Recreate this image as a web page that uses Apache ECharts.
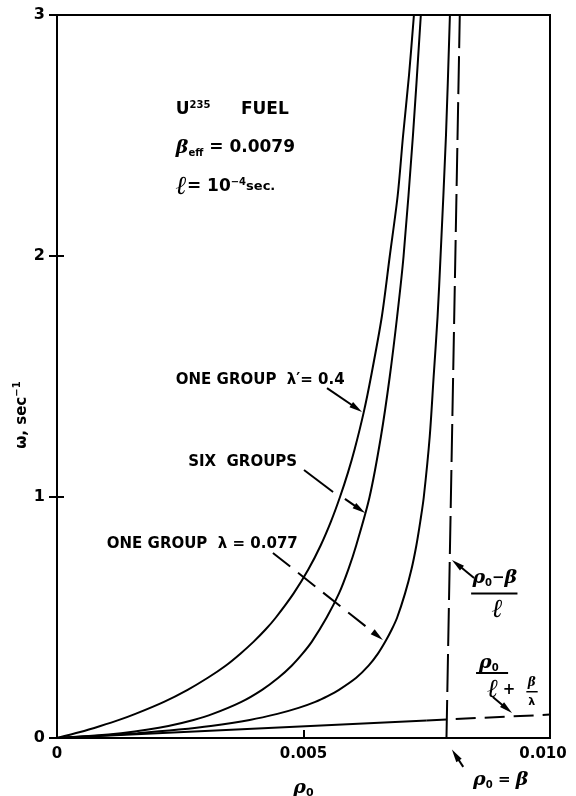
<!DOCTYPE html>
<html><head><meta charset="utf-8">
<script src="https://cdn.jsdelivr.net/npm/echarts@6/dist/echarts.min.js"></script>
<style>html,body{margin:0;padding:0;background:#fff}#c{width:576px;height:796px}</style>
</head><body><div id="c"></div>
<script>
// ---- data ----
const xTicks = [0, 0.005, 0.010];
const xTickLabels = ['0', '0.005', '0.010'];
const yTicks = [0, 1, 2, 3];
const yTickLabels = ['0', '1', '2', '3'];

// ONE GROUP lambda' = 0.4
const oneGroup04Rho   = [0, 0.00047, 0.00088, 0.00126, 0.00159, 0.00217, 0.00265, 0.00306, 0.00342, 0.00372, 0.00399, 0.00423, 0.00444, 0.00480, 0.00510, 0.00535, 0.00556, 0.00574, 0.00590, 0.00604, 0.00622, 0.00637, 0.00659, 0.00675, 0.00691, 0.00702, 0.00714, 0.00724];
const oneGroup04Omega = [0, 0.025,   0.05,    0.075,   0.10,    0.15,    0.20,    0.25,    0.30,    0.35,    0.40,    0.45,    0.50,    0.60,    0.70,    0.80,    0.90,    1.00,    1.10,    1.20,    1.35,    1.50,    1.75,    2.00,    2.25,    2.50,    2.75,    3.00];

// SIX GROUPS
const sixGroupRho   = [0, 0.00078, 0.00130, 0.00185, 0.00226, 0.00277, 0.00316, 0.00374, 0.00416, 0.00449, 0.00476, 0.00498, 0.00517, 0.00547, 0.00572, 0.00591, 0.00607, 0.00634, 0.00657, 0.00675, 0.00690, 0.00703, 0.00722, 0.00738];
const sixGroupOmega = [0, 0.01,    0.02,    0.035,   0.05,    0.075,   0.10,    0.15,    0.20,    0.25,    0.30,    0.35,    0.40,    0.50,    0.60,    0.70,    0.80,    1.00,    1.25,    1.50,    1.75,    2.00,    2.50,    3.00];

// ONE GROUP lambda = 0.077
const oneGroup077Rho   = [0, 0.00048, 0.00091, 0.00163, 0.00247, 0.00312, 0.00391, 0.00447, 0.00490, 0.00524, 0.00550, 0.00572, 0.00607, 0.00632, 0.00651, 0.00666, 0.00679, 0.00690, 0.00706, 0.00719, 0.00729, 0.00737, 0.00744, 0.00756, 0.00764, 0.00772, 0.00778, 0.00789, 0.00797];
const oneGroup077Omega = [0, 0.005,   0.01,    0.02,    0.035,   0.05,    0.075,   0.10,    0.125,   0.15,    0.175,   0.20,    0.25,    0.30,    0.35,    0.40,    0.45,    0.50,    0.60,    0.70,    0.80,    0.90,    1.00,    1.25,    1.50,    1.75,    2.00,    2.50,    3.00];

// rho0 / (l + beta/lambda): solid part, dashed continuation
const lowLineRho   = [0, 0.0075];
const lowLineOmega = [0, 0.073];
const lowDashRho   = [0.0075, 0.0100];
const lowDashOmega = [0.073, 0.097];

// (rho0 - beta) / l
const asymRho   = [0.0079, 0.00817];
const asymOmega = [0, 3];

const zip = (a, b) => a.map((v, i) => [v, b[i]]);
const pick = (ticks, labels) => v => {
  for (let i = 0; i < ticks.length; i++) if (Math.abs(v - ticks[i]) < 1e-9) return labels[i];
  return '';
};

const chart = echarts.init(document.getElementById('c'), null, {renderer: 'canvas'});
const black = '#000';
const curve = (name, d, extra) => Object.assign({
  name, type: 'line', data: d, showSymbol: false, smooth: 0.3,
  lineStyle: {color: black, width: 2}, animation: false, silent: true
}, extra || {});

const xLab = pick(xTicks, xTickLabels);
chart.setOption({
  animation: false,
  backgroundColor: '#fff',
  grid: {left: 57, right: 26, top: 15, bottom: 58, show: true, borderColor: black, borderWidth: 2,
    containLabel: false, outerBoundsMode: 'none'},
  xAxis: {
    type: 'value', min: 0, max: 0.01, interval: 0.005,
    axisLine: {lineStyle: {color: black, width: 2}},
    axisTick: {inside: true, length: 8, lineStyle: {color: black, width: 2}},
    axisLabel: {
      formatter: v => (Math.abs(v - 0.01) < 1e-9 ? '{e|' + xLab(v) + '}' : xLab(v)),
      color: black, fontFamily: 'DejaVu Sans', fontWeight: 'bold', fontSize: 15, margin: 9,
      rich: {e: {fontFamily: 'DejaVu Sans', fontWeight: 'bold', fontSize: 15, color: black, padding: [0, 14, 0, 0]}}
    },
    splitLine: {show: false},
    name: '{r|ρ}{s|0}', nameLocation: 'middle', nameGap: 40,
    nameTextStyle: {rich: {
      r: {fontFamily: 'DejaVu Serif', fontStyle: 'italic', fontWeight: 'bold', fontSize: 19, color: black},
      s: {fontFamily: 'DejaVu Sans', fontWeight: 'bold', fontSize: 11, color: black, padding: [10, 0, 0, 0]}
    }}
  },
  yAxis: [{
    type: 'value', min: 0, max: 3, interval: 1,
    axisLine: {show: true, lineStyle: {color: black, width: 2}},
    axisTick: {show: true, length: 8, lineStyle: {color: black, width: 2}},
    axisLabel: {formatter: pick(yTicks, yTickLabels), color: black, fontFamily: 'DejaVu Sans', fontWeight: 'bold', fontSize: 16, margin: 12},
    splitLine: {show: false}
  }, {
    type: 'value', min: 0, max: 3, interval: 1, position: 'left',
    axisLine: {show: false},
    axisTick: {show: true, inside: true, length: 7, lineStyle: {color: black, width: 2}},
    axisLabel: {show: false}, splitLine: {show: false}
  }],
  series: [
    curve('one group 0.4', zip(oneGroup04Rho, oneGroup04Omega)),
    curve('six groups', zip(sixGroupRho, sixGroupOmega)),
    curve('one group 0.077', zip(oneGroup077Rho, oneGroup077Omega)),
    curve('low line', zip(lowLineRho, lowLineOmega), {smooth: false}),
    curve('low dash', zip(lowDashRho, lowDashOmega), {smooth: false, lineStyle: {color: black, width: 2, type: [20, 9]}}),
    curve('asymptote', zip(asymRho, asymOmega), {smooth: false, lineStyle: {color: black, width: 2, type: [38, 8]}})
  ]
});

// ---- annotations (anchored in data units, converted by the chart) ----
const P = (x, y) => chart.convertToPixel({gridIndex: 0}, [x, y]);
const g = [];
function arrow(p0, p1, dash) {
  const a = P(p0[0], p0[1]), b = P(p1[0], p1[1]);
  const dx = b[0] - a[0], dy = b[1] - a[1], L = Math.hypot(dx, dy), ux = dx / L, uy = dy / L;
  const hl = 13, hw = 3.2;
  const base = [b[0] - ux * hl, b[1] - uy * hl];
  g.push({type: 'line', shape: {x1: a[0], y1: a[1], x2: base[0] + ux * 2, y2: base[1] + uy * 2},
    style: {stroke: black, lineWidth: 2, lineDash: dash || null}});
  g.push({type: 'polygon', shape: {points: [b, [base[0] - uy * hw, base[1] + ux * hw], [base[0] + uy * hw, base[1] - ux * hw]]},
    style: {fill: black}});
}
function seg(p0, p1) {
  const a = P(p0[0], p0[1]), b = P(p1[0], p1[1]);
  g.push({type: 'line', shape: {x1: a[0], y1: a[1], x2: b[0], y2: b[1]}, style: {stroke: black, lineWidth: 2}});
}
function text(pos, t, rich, align) {
  const p = P(pos[0], pos[1]);
  g.push({type: 'text', x: p[0], y: p[1], style: {text: t, rich: rich, align: align || 'left', verticalAlign: 'middle', fill: black}});
}
function hbar(x0, x1, y, w) {
  const a = P(x0, y), b = P(x1, y);
  g.push({type: 'line', shape: {x1: a[0], y1: a[1], x2: b[0], y2: b[1]}, style: {stroke: black, lineWidth: w || 2}});
}

const sans = (size) => ({fontFamily: 'DejaVu Sans', fontWeight: 'bold', fontSize: size, color: black});
const ital = (size) => ({fontFamily: 'DejaVu Serif', fontStyle: 'italic', fontWeight: 'bold', fontSize: size, color: black});
const richAll = {
  a: sans(17), b: sans(15), sup: Object.assign(sans(10), {padding: [0, 0, 10, 0]}),
  sub: Object.assign(sans(10), {padding: [10, 0, 0, 0]}),
  sm: sans(13), g: ital(19), gs: Object.assign(sans(10), {padding: [10, 0, 0, 0]}),
  l: {fontFamily: 'DejaVu Serif', fontStyle: 'italic', fontWeight: 'bold', fontSize: 26, color: black}
};

text([0.00241, 2.606], '{a|U}{sup|235}', richAll);
text([0.00373, 2.606], '{a|FUEL}', richAll);
text([0.00241, 2.448], '{g|β}{sub|eff}{a| = 0.0079}', richAll);
text([0.00241, 2.286], '{l|ℓ}{a|= 10}{sup|−4}{sm|sec.}', richAll);

text([0.00241, 1.486], "{b|ONE GROUP  λ′= 0.4}", richAll);
text([0.00266, 1.145], '{b|SIX  GROUPS}', richAll);
text([0.00101, 0.805], '{b|ONE GROUP  λ = 0.077}', richAll);

arrow([0.005477, 1.452], [0.006187, 1.353]);
seg([0.00501, 1.112], [0.00560, 1.021]);
arrow([0.00584, 0.992], [0.00625, 0.934]);
arrow([0.00438, 0.768], [0.00661, 0.407], [22, 10]);

// (rho0 - beta) / l
text([0.00888, 0.664], '{g|ρ}{gs|0}{b|−}{g|β}', richAll, 'center');
hbar(0.00840, 0.00934, 0.600);
text([0.00893, 0.532], '{l|ℓ}', richAll, 'center');
arrow([0.00846, 0.664], [0.00801, 0.739]);

// rho0 / (l + beta/lambda)
text([0.00876, 0.311], '{g|ρ}{gs|0}', richAll, 'center');
hbar(0.00850, 0.00915, 0.270);
text([0.00884, 0.199], '{l|ℓ}', richAll, 'center');
text([0.00917, 0.199], '{b|+}', richAll, 'center');
text([0.00963, 0.228], '{gs|β}', {gs: ital(12)}, 'center');
hbar(0.00952, 0.00975, 0.192, 1.5);
text([0.00963, 0.150], '{gs|λ}', {gs: sans(11)}, 'center');
arrow([0.00884, 0.170], [0.00923, 0.104]);

// rho0 = beta
text([0.00844, -0.174], '{g|ρ}{gs|0}{b| = }{g|β}', richAll);
arrow([0.00824, -0.120], [0.00801, -0.048]);

// y axis name
const yn = P(0, 1.34);
g.push({type: 'text', x: yn[0] - 35, y: yn[1], rotation: Math.PI / 2,
  style: {text: '{b|ω, sec}{sup|−1}', rich: richAll, align: 'center', verticalAlign: 'middle', fill: black}});

chart.setOption({graphic: g});
</script></body></html>
